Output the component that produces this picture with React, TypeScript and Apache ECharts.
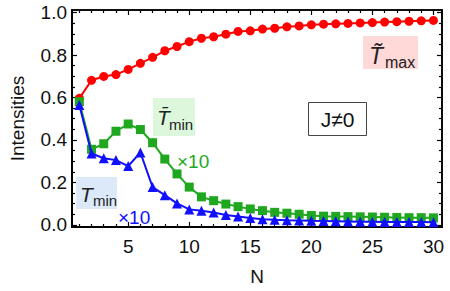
import React, { useEffect, useRef } from "react";
import * as echarts from "echarts";

const nValues = [1, 2, 3, 4, 5, 6, 7, 8, 9, 10, 11, 12, 13, 14, 15, 16, 17, 18, 19, 20, 21, 22, 23, 24, 25, 26, 27, 28, 29, 30];
const tMaxTilde = [0.596, 0.681, 0.699, 0.708, 0.732, 0.761, 0.789, 0.82, 0.84, 0.863, 0.879, 0.886, 0.898, 0.911, 0.914, 0.922, 0.926, 0.933, 0.937, 0.942, 0.945, 0.947, 0.949, 0.951, 0.953, 0.955, 0.957, 0.959, 0.961, 0.963];
const tMinBar = [0.58, 0.356, 0.382, 0.441, 0.475, 0.449, 0.387, 0.31, 0.24, 0.178, 0.132, 0.114, 0.098, 0.086, 0.075, 0.067, 0.059, 0.055, 0.05, 0.044, 0.041, 0.04, 0.039, 0.038, 0.037, 0.036, 0.035, 0.034, 0.034, 0.033];
const tMin = [0.565, 0.336, 0.314, 0.305, 0.277, 0.341, 0.178, 0.14, 0.101, 0.073, 0.066, 0.058, 0.047, 0.039, 0.032, 0.027, 0.024, 0.022, 0.021, 0.019, 0.018, 0.017, 0.016, 0.015, 0.015, 0.014, 0.014, 0.013, 0.013, 0.012];

const xMajorTicks = [5, 10, 15, 20, 25, 30];
const xMinorTicks = [1, 2, 3, 4, 6, 7, 8, 9, 11, 12, 13, 14, 16, 17, 18, 19, 21, 22, 23, 24, 26, 27, 28, 29];
const yMajorTicks = [0, 0.2, 0.4, 0.6, 0.8, 1.0];
const yMinorTicks = [0.05, 0.1, 0.15, 0.25, 0.3, 0.35, 0.45, 0.5, 0.55, 0.65, 0.7, 0.75, 0.85, 0.9, 0.95];

const X_MIN = 0.4;
const X_MAX = 30.7;
const Y_MIN = -0.01;
const Y_MAX = 1.012;

const FONT = "Liberation Sans, Arial, sans-serif";

export default function App() {
  const ref = useRef<HTMLDivElement>(null);
  useEffect(() => {
    document.body.style.margin = "0";
    if (!ref.current) return;
    const chart = echarts.init(ref.current, undefined, { renderer: "svg" });
    const pts = (vals: number[]) => nValues.map((n, i) => [n, vals[i]]);

    const xAx = (pos: "bottom" | "top", ticks: number[], len: number, labels: boolean, line: boolean, lw: number) => ({
      type: "value",
      position: pos,
      min: X_MIN,
      max: X_MAX,
      gridIndex: 0,
      splitLine: { show: false },
      axisLine: { show: line, onZero: false, lineStyle: { color: "#000", width: lw } },
      axisTick: { show: true, inside: true, length: len, customValues: ticks, lineStyle: { color: "#000", width: 1.2 } },
      axisLabel: labels
        ? { show: true, customValues: ticks, color: "#111", fontSize: 19, fontFamily: FONT, margin: 10 }
        : { show: false },
    });
    const yAx = (pos: "left" | "right", ticks: number[], len: number, labels: boolean, line: boolean, lw: number) => ({
      type: "value",
      position: pos,
      min: Y_MIN,
      max: Y_MAX,
      gridIndex: 0,
      splitLine: { show: false },
      axisLine: { show: line, onZero: false, lineStyle: { color: "#000", width: lw } },
      axisTick: { show: true, inside: true, length: len, customValues: ticks, lineStyle: { color: "#000", width: 1.2 } },
      axisLabel: labels
        ? {
            show: true,
            customValues: ticks,
            color: "#111",
            fontSize: 19,
            fontFamily: FONT,
            margin: 5,
            formatter: (v: number) => v.toFixed(1),
          }
        : { show: false },
    });

    const xAxes: any[] = [
      { ...xAx("bottom", xMajorTicks, 5, true, true, 2), name: "N", nameLocation: "middle", nameGap: 40, nameTextStyle: { fontSize: 19, fontFamily: FONT, color: "#111" } },
      xAx("bottom", xMinorTicks, 3, false, false, 1),
      xAx("top", xMajorTicks, 5, false, true, 1.6),
      xAx("top", xMinorTicks, 3, false, false, 1),
    ];
    const yAxes: any[] = [
      { ...yAx("left", yMajorTicks, 5, true, true, 2), name: "Intensities", nameLocation: "middle", nameGap: 45, nameTextStyle: { fontSize: 19, fontFamily: FONT, color: "#111" } },
      yAx("left", yMinorTicks, 3, false, false, 1),
      yAx("right", yMajorTicks, 5, false, true, 1.6),
      yAx("right", yMinorTicks, 3, false, false, 1),
    ];

    const labelText = (x: number, y: number, text: string, size: number, italic: boolean, color = "#222", align = "left") => ({
      type: "text",
      x,
      y,
      z: 100,
      style: {
        text,
        fill: color,
        fontSize: size,
        fontFamily: FONT,
        fontStyle: italic ? "italic" : "normal",
        align,
        verticalAlign: "middle",
      },
    });

    const dummy = [1, 2, 3].map((i) => ({
      type: "line",
      name: "axis" + i,
      xAxisIndex: i,
      yAxisIndex: i,
      data: [],
      silent: true,
    }));

    chart.setOption({
      animation: false,
      grid: {
        left: 67,
        right: 8,
        top: 10,
        bottom: 60.5,
        containLabel: false,
        show: true,
        borderColor: "#000",
        borderWidth: 1.6,
        backgroundColor: "transparent",
      },
      xAxis: xAxes,
      yAxis: yAxes,
      series: [
        {
          type: "line",
          name: "Tmax",
          data: pts(tMaxTilde),
          symbol: "circle",
          symbolSize: 9,
          itemStyle: { color: "#ff0000" },
          lineStyle: { color: "#ff0000", width: 2 },
          z: 2,
        },
        {
          type: "line",
          name: "TminBar",
          data: pts(tMinBar),
          symbol: "rect",
          symbolSize: 9,
          itemStyle: { color: "#1fa81f" },
          lineStyle: { color: "#1fa81f", width: 2 },
          z: 3,
        },
        {
          type: "line",
          name: "Tmin",
          data: pts(tMin),
          symbol: "triangle",
          symbolSize: 10,
          itemStyle: { color: "#1010ff" },
          lineStyle: { color: "#1010ff", width: 2 },
          z: 4,
        },
        ...dummy,
      ],
      graphic: [
        { type: "rect", z: 90, shape: { x: 363, y: 36, width: 55, height: 33 }, style: { fill: "#ffd8d8" } },
        labelText(369, 56, "T\u0303", 23, true),
        labelText(385, 62, "max", 16, false),
        { type: "rect", z: 90, shape: { x: 153, y: 98, width: 42, height: 38 }, style: { fill: "#dcf7dc" } },
        labelText(157, 117, "T\u0304", 21, true),
        labelText(169, 124, "min", 15, false),
        { type: "rect", z: 90, shape: { x: 76, y: 177, width: 41, height: 32 }, style: { fill: "#dce9f8" } },
        labelText(80, 194.5, "T", 21, true),
        labelText(93, 200, "min", 15, false),
        labelText(177, 161, "\u00d710", 19, false, "#1fa81f"),
        labelText(118, 217, "\u00d710", 19, false, "#1010ff"),
        {
          type: "rect",
          z: 90,
          shape: { x: 308.5, y: 102.5, width: 58, height: 33 },
          style: { fill: "#fff", stroke: "#444", lineWidth: 1 },
        },
        labelText(337.5, 119.5, "J\u22600", 21, false, "#111", "center"),
      ],
    } as any);
    return () => chart.dispose();
  }, []);
  return <div ref={ref} style={{ width: 450, height: 291 }} />;
}
